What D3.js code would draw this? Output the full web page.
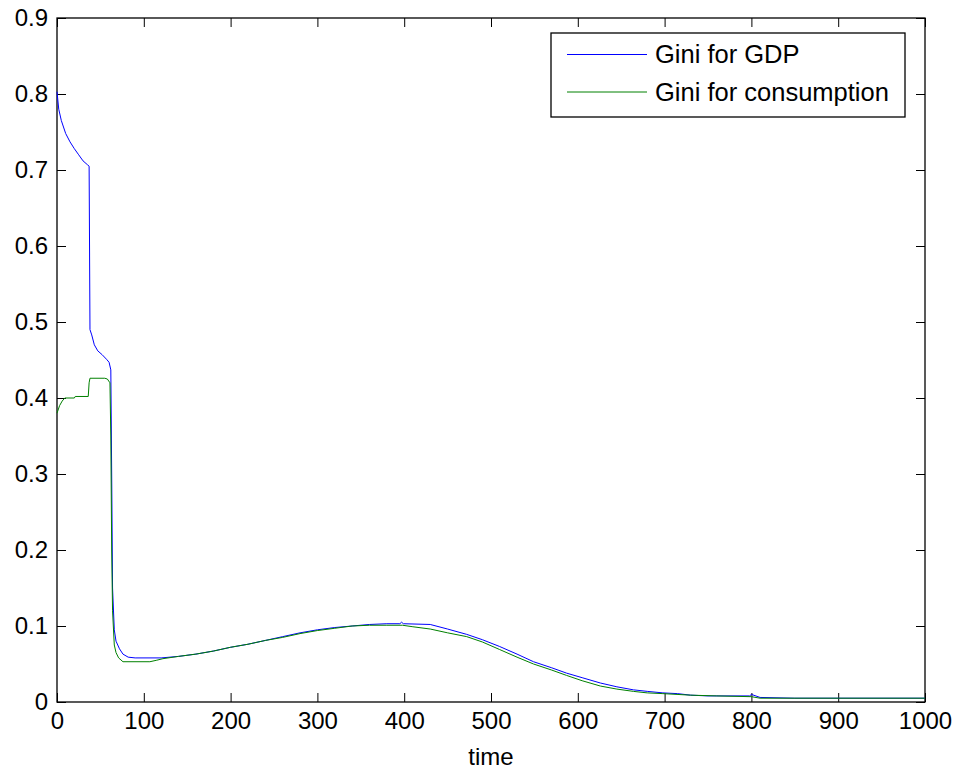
<!DOCTYPE html>
<html>
<head>
<meta charset="utf-8">
<script src="https://cdn.jsdelivr.net/npm/d3@7"></script>
<style>
  body { margin: 0; background: #fff; }
  text { font-family: "Liberation Sans", Arial, Helvetica, sans-serif; }
</style>
</head>
<body>
<div id="chart"></div>
<script>
// values
const gdpTime = [0, 2, 5, 10, 15, 20, 25, 30, 35, 37, 38, 40, 43, 47, 52, 57, 60, 62, 63, 64, 66, 68, 72, 76, 82, 90,
  120, 140, 160, 180, 200, 220, 240, 260, 280, 300, 320, 340, 360, 380, 395, 397, 399, 430, 450, 472, 490, 510, 530,
  549, 570, 587, 605, 626, 645, 664, 680, 698, 715, 730, 750, 798, 800, 810, 850, 1000]
const gdpGini = [0.803, 0.78, 0.765, 0.748, 0.737, 0.728, 0.72, 0.712, 0.707, 0.705, 0.49, 0.483, 0.47, 0.462, 0.457, 0.451, 0.447, 0.437, 0.30, 0.15, 0.095, 0.08, 0.07, 0.063, 0.059, 0.058,
  0.058, 0.060, 0.063, 0.067, 0.072, 0.076, 0.081, 0.086, 0.091, 0.095, 0.098, 0.100, 0.102, 0.103, 0.103, 0.105, 0.103, 0.102, 0.096, 0.089, 0.082, 0.073, 0.063,
  0.053, 0.045, 0.038, 0.032, 0.025, 0.020, 0.016, 0.014, 0.012, 0.011, 0.009, 0.008, 0.008, 0.010, 0.006, 0.005, 0.005]

const consTime = [0, 3, 6, 9, 20, 21, 36, 37, 38, 55, 58, 61, 62, 63, 64, 66, 68, 71, 76, 107, 115, 122, 140, 160, 180,
  200, 220, 240, 260, 280, 300, 320, 340, 360, 380, 398, 410, 430, 450, 472, 490, 510, 530, 549, 570, 587, 605, 626,
  645, 664, 680, 698, 730, 760, 800, 810, 1000]
const consGini = [0.380, 0.39, 0.396, 0.400, 0.400, 0.402, 0.402, 0.420, 0.426, 0.426, 0.425, 0.42, 0.35, 0.20, 0.12, 0.075, 0.065, 0.058, 0.053, 0.053, 0.055, 0.057, 0.060, 0.063, 0.067,
  0.072, 0.076, 0.081, 0.085, 0.090, 0.094, 0.097, 0.100, 0.101, 0.101, 0.101, 0.099, 0.096, 0.091, 0.086, 0.079, 0.069, 0.059, 0.050, 0.042, 0.035, 0.028, 0.021,
  0.017, 0.014, 0.012, 0.011, 0.009, 0.008, 0.007, 0.005, 0.005]

const xTicks = [0, 100, 200, 300, 400, 500, 600, 700, 800, 900, 1000]
const yTicks = [0, 0.1, 0.2, 0.3, 0.4, 0.5, 0.6, 0.7, 0.8, 0.9]
const seriesNames = ['Gini for GDP', 'Gini for consumption']
const seriesColors = ['#0000ff', '#008000']

const W = 959, H = 775
const margin = { top: 18, right: 34, bottom: 73, left: 57 }
const w = W - margin.left - margin.right
const h = H - margin.top - margin.bottom

const svg = d3.select('#chart').append('svg')
  .attr('width', W).attr('height', H)

const g = svg.append('g').attr('transform', `translate(${margin.left},${margin.top})`)

const x = d3.scaleLinear().domain([0, 1000]).range([0, w])
const y = d3.scaleLinear().domain([0, 0.9]).range([h, 0])

const fmtY = d => d === 0 ? '0' : d3.format('.1f')(d)

// axes, ticks pointing inward like matlab
const styleAxis = (sel) => {
  sel.select('.domain').remove()
  sel.selectAll('.tick line').attr('stroke', '#000').attr('stroke-width', 1)
  sel.selectAll('text').attr('font-size', 24).attr('fill', '#000')
}

g.append('g').attr('transform', `translate(0,${h})`)
  .call(d3.axisBottom(x).tickValues(xTicks).tickSize(-9).tickPadding(10).tickFormat(d3.format('d')))
  .call(styleAxis)
g.append('g')
  .call(d3.axisTop(x).tickValues(xTicks).tickSize(-9).tickFormat(''))
  .call(styleAxis)
g.append('g')
  .call(d3.axisLeft(y).tickValues(yTicks).tickSize(-9).tickPadding(9).tickFormat(fmtY))
  .call(styleAxis)
g.append('g').attr('transform', `translate(${w},0)`)
  .call(d3.axisRight(y).tickValues(yTicks).tickSize(-9).tickFormat(''))
  .call(styleAxis)

g.append('rect')
  .attr('width', w).attr('height', h)
  .attr('fill', 'none').attr('stroke', '#000').attr('stroke-width', 1.3)

const line = d3.line().x(d => x(d[0])).y(d => y(d[1]))

const series = [
  d3.zip(gdpTime, gdpGini),
  d3.zip(consTime, consGini)
]

g.selectAll('.series')
  .data(series)
  .enter()
  .append('path')
  .attr('class', 'series')
  .attr('d', line)
  .attr('fill', 'none')
  .attr('stroke', (d, i) => seriesColors[i])
  .attr('stroke-width', 1)

g.append('text')
  .attr('x', w / 2).attr('y', h + 63)
  .attr('text-anchor', 'middle')
  .attr('font-size', 24)
  .text('time')

// legend
const legend = svg.append('g').attr('transform', 'translate(551,33)')
legend.append('rect')
  .attr('width', 354).attr('height', 84)
  .attr('fill', '#fff').attr('stroke', '#000').attr('stroke-width', 1.3)

const item = legend.selectAll('.item')
  .data(seriesNames)
  .enter()
  .append('g')
  .attr('class', 'item')
  .attr('transform', (d, i) => `translate(0,${21.5 + i * 37.5})`)

item.append('line')
  .attr('x1', 16).attr('x2', 96)
  .attr('stroke', (d, i) => seriesColors[i])
  .attr('stroke-width', 1)
item.append('text')
  .attr('x', 104).attr('dy', '0.35em')
  .attr('font-size', 25.5)
  .text(d => d)
</script>
</body>
</html>
